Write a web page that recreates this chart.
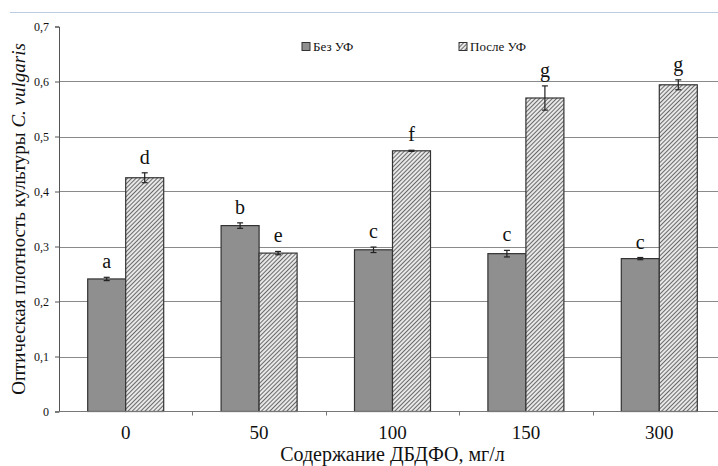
<!DOCTYPE html>
<html>
<head>
<meta charset="utf-8">
<script src="https://cdn.jsdelivr.net/npm/d3@7"></script>
<style>
	body { margin: 0; background: #fff; }
	text { font-family: 'Liberation Serif', 'Times New Roman', serif; fill: #111; }
</style>
</head>
<body>
<div id="chart"></div>
<script>
const categories = ['0', '50', '100', '150', '300']
const series = ['Без УФ', 'После УФ']
const valuesNoUv = [0.241, 0.338, 0.294, 0.287, 0.278]
const errorsNoUv = [0.003, 0.005, 0.005, 0.006, 0.002]
const lettersNoUv = ['a', 'b', 'c', 'c', 'c']
const valuesUv = [0.425, 0.288, 0.474, 0.57, 0.594]
const errorsUv = [0.009, 0.003, 0.001, 0.022, 0.009]
const lettersUv = ['d', 'e', 'f', 'g', 'g']
const yTicks = [0, 0.1, 0.2, 0.3, 0.4, 0.5, 0.6, 0.7]

const width = 718,
	height = 466
const margin = { top: 26.5, left: 59, bottom: 411.5 }
const plotRight = 726

const rows = categories.map((c, i) => ({
	category: c,
	bars: [
		{ key: series[0], value: valuesNoUv[i], err: errorsNoUv[i], letter: lettersNoUv[i] },
		{ key: series[1], value: valuesUv[i], err: errorsUv[i], letter: lettersUv[i] }
	]
}))

const svg = d3
	.select('#chart')
	.append('svg')
	.attr('width', width)
	.attr('height', height)

// hatch for the "после" bars
const defs = svg.append('defs')
const pat = defs
	.append('pattern')
	.attr('id', 'hatch')
	.attr('patternUnits', 'userSpaceOnUse')
	.attr('width', 3)
	.attr('height', 3)
	.attr('patternTransform', 'rotate(45)')
pat.append('rect').attr('width', 3).attr('height', 3).attr('fill', '#e8e8e8')
pat.append('line')
	.attr('x1', 0.5).attr('y1', 0)
	.attr('x2', 0.5).attr('y2', 3)
	.attr('stroke', '#6a6a6a')
	.attr('stroke-width', 1)

const fills = { 'Без УФ': '#8f8f8f', 'После УФ': 'url(#hatch)' }

// page border line at the top
svg.append('line')
	.attr('x1', 10).attr('x2', width)
	.attr('y1', 12.5).attr('y2', 12.5)
	.attr('stroke', '#bccde3')
	.attr('stroke-width', 1)

const x = d3
	.scaleBand()
	.domain(categories)
	.range([margin.left, plotRight])
	.padding(0)

const groupW = 76
const xs = d3
	.scaleBand()
	.domain(series)
	.range([(x.bandwidth() - groupW) / 2, (x.bandwidth() + groupW) / 2])

const y = d3
	.scaleLinear()
	.domain([0, 0.7])
	.range([margin.bottom, margin.top])

// gridlines
svg.append('g')
	.selectAll('line')
	.data(yTicks.filter(t => t > 0 && t < 0.7))
	.enter()
	.append('line')
	.attr('x1', margin.left)
	.attr('x2', width)
	.attr('y1', d => Math.round(y(d)) + 0.5)
	.attr('y2', d => Math.round(y(d)) + 0.5)
	.attr('stroke', '#8a8a8a')
	.attr('stroke-width', 1)

// bars
const groups = svg
	.append('g')
	.selectAll('g')
	.data(rows)
	.enter()
	.append('g')
	.attr('transform', d => `translate(${x(d.category)},0)`)

groups
	.selectAll('rect')
	.data(d => d.bars)
	.enter()
	.append('rect')
	.attr('x', d => xs(d.key))
	.attr('y', d => y(d.value))
	.attr('width', xs.bandwidth())
	.attr('height', d => y(0) - y(d.value))
	.attr('fill', d => fills[d.key])
	.attr('stroke', '#333')
	.attr('stroke-width', 1.2)

// error bars
const errG = groups
	.selectAll('g.err')
	.data(d => d.bars)
	.enter()
	.append('g')
	.attr('class', 'err')
	.attr('stroke', '#222')
	.attr('stroke-width', 1.2)

errG.append('line')
	.attr('x1', d => xs(d.key) + xs.bandwidth() / 2)
	.attr('x2', d => xs(d.key) + xs.bandwidth() / 2)
	.attr('y1', d => y(d.value + d.err))
	.attr('y2', d => y(d.value - d.err))
errG.selectAll('line.cap')
	.data(d => [
		{ key: d.key, v: d.value + d.err },
		{ key: d.key, v: d.value - d.err }
	])
	.enter()
	.append('line')
	.attr('class', 'cap')
	.attr('x1', d => xs(d.key) + xs.bandwidth() / 2 - 3)
	.attr('x2', d => xs(d.key) + xs.bandwidth() / 2 + 3)
	.attr('y1', d => y(d.v))
	.attr('y2', d => y(d.v))

// significance letters
groups
	.selectAll('text.letter')
	.data(d => d.bars)
	.enter()
	.append('text')
	.attr('class', 'letter')
	.attr('x', d => xs(d.key) + xs.bandwidth() / 2)
	.attr('y', d => y(d.value + d.err) - 9)
	.attr('text-anchor', 'middle')
	.style('font-size', '20px')
	.text(d => d.letter)

// y axis
const yAxis = svg
	.append('g')
	.attr('transform', `translate(${margin.left},0)`)
	.call(
		d3
			.axisLeft(y)
			.tickValues(yTicks)
			.tickSize(4)
			.tickFormat(d => (d === 0 ? '0' : d3.format('.1f')(d).replace('.', ',')))
	)
yAxis.select('.domain').attr('stroke', '#555')
yAxis.selectAll('.tick line').attr('stroke', '#555')
yAxis.selectAll('.tick text')
	.attr('x', -10)
	.style('font-size', '12px')
	.attr('fill', '#222')

// x axis
svg.append('line')
	.attr('x1', margin.left - 4)
	.attr('x2', width)
	.attr('y1', margin.bottom)
	.attr('y2', margin.bottom)
	.attr('stroke', '#777')
	.attr('stroke-width', 1.2)

svg.append('g')
	.selectAll('line')
	.data(categories.slice(1))
	.enter()
	.append('line')
	.attr('x1', d => Math.round(x(d)) + 0.5)
	.attr('x2', d => Math.round(x(d)) + 0.5)
	.attr('y1', margin.bottom)
	.attr('y2', margin.bottom + 4)
	.attr('stroke', '#777')

svg.append('g')
	.selectAll('text')
	.data(categories)
	.enter()
	.append('text')
	.attr('x', d => x(d) + x.bandwidth() / 2)
	.attr('y', 439)
	.attr('text-anchor', 'middle')
	.style('font-size', '19px')
	.text(d => d)

// axis titles
svg.append('text')
	.attr('x', (margin.left + plotRight) / 2)
	.attr('y', 461)
	.attr('text-anchor', 'middle')
	.style('font-size', '20px')
	.text('Содержание ДБДФО, мг/л')

const yTitle = svg
	.append('text')
	.attr('transform', `translate(25,${(margin.top + margin.bottom) / 2}) rotate(-90)`)
	.attr('text-anchor', 'middle')
	.style('font-size', '19px')
yTitle.append('tspan').text('Оптическая плотность культуры ')
yTitle.append('tspan').style('font-style', 'italic').text('C. vulgaris')

// legend
const legendX = [302, 459]
const legend = svg
	.append('g')
	.selectAll('g')
	.data(series)
	.enter()
	.append('g')
	.attr('transform', (d, i) => `translate(${legendX[i]},42.5)`)
legend.append('rect')
	.attr('width', 8)
	.attr('height', 8)
	.attr('fill', d => fills[d])
	.attr('stroke', '#333')
	.attr('stroke-width', 1)
legend.append('text')
	.attr('x', 11)
	.attr('y', 8)
	.style('font-size', '13px')
	.text(d => d)
</script>
</body>
</html>
